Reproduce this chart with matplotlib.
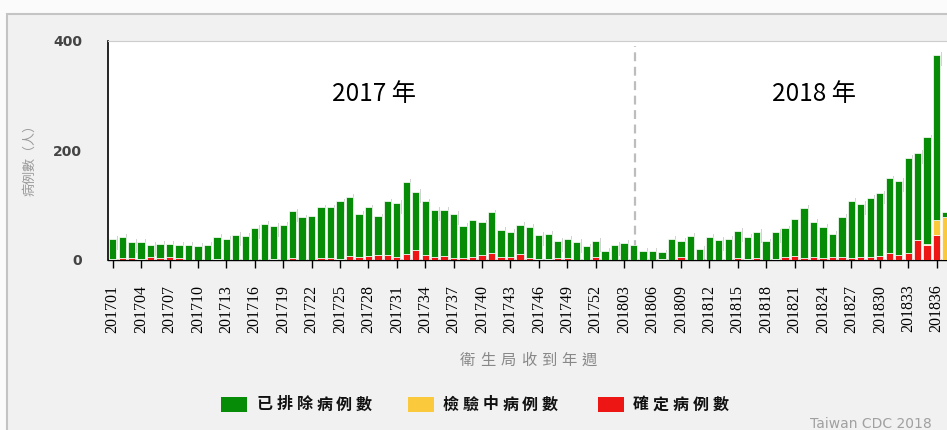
import numpy as np
import matplotlib.pyplot as plt
from matplotlib.patches import Rectangle

W, H = 947, 430

# year-week labels, 201701 .. 201837
weeks = [f'2017{w:02d}' for w in range(1, 53)] + [f'2018{w:02d}' for w in range(1, 38)]

# 已排除病例數 (green)
excluded = [37, 38, 29, 31, 23, 26, 24, 24, 27, 25, 27, 40, 38,
            45, 43, 58, 65, 60, 63, 86, 77, 79, 93, 93, 105, 109,
            80, 89, 71, 98, 98, 132, 106, 97, 85, 83, 81, 59, 67,
            60, 74, 49, 45, 53, 57, 44, 46, 31, 35, 32, 24, 29,
            16, 27, 30, 26, 16, 16, 12, 38, 30, 43, 20, 41, 36,
            38, 50, 40, 48, 33, 49, 52, 68, 91, 64, 58, 43, 73,
            104, 97, 108, 114, 136, 135, 175, 160, 194, 301, 8]

# 檢驗中病例數 (yellow)
testing = [0, 0, 0, 0, 0, 0, 0, 0, 0, 0, 0, 0, 0,
           0, 0, 0, 0, 0, 0, 0, 0, 0, 0, 0, 0, 0,
           0, 0, 0, 0, 0, 0, 0, 0, 0, 0, 0, 0, 0,
           0, 0, 0, 0, 0, 0, 0, 0, 0, 0, 0, 0, 0,
           0, 0, 0, 0, 0, 0, 0, 0, 0, 0, 0, 0, 0,
           0, 0, 0, 0, 0, 0, 0, 0, 0, 0, 0, 0, 0,
           0, 0, 0, 0, 0, 0, 0, 0, 3, 29, 78]

# 確定病例數 (red)
confirmed = [1, 3, 3, 1, 4, 3, 5, 3, 0, 0, 0, 1, 0,
             0, 0, 0, 0, 1, 0, 2, 0, 0, 2, 2, 1, 6,
             4, 6, 8, 8, 5, 10, 18, 9, 5, 7, 2, 2, 5,
             8, 12, 5, 5, 10, 2, 1, 1, 3, 3, 0, 0, 5,
             0, 0, 0, 0, 0, 0, 1, 0, 4, 0, 0, 0, 0,
             0, 2, 1, 2, 0, 1, 5, 6, 3, 5, 2, 4, 5,
             3, 5, 4, 7, 12, 8, 11, 35, 26, 44, 0]

legend_labels = ['已排除病例數', '檢驗中病例數', '確定病例數']
GREEN, YELLOW, RED = '#078c07', '#fbc93c', '#ee1515'
CJK = ['Noto Sans CJK TC', 'DejaVu Sans']


def px(x, y):
    return x / W, 1 - y / H


def spaced(fig, x0, y, s, adv, **kw):
    # CJK text with wide letter spacing, one char at a time
    for k, c in enumerate(s):
        fig.text(*px(x0 + k * adv, y), c, ha='left', va='center', **kw)


fig = plt.figure(figsize=(W / 100, H / 100), dpi=100)
fig.patch.set_facecolor('#fbfbfb')
fig.patches.append(Rectangle(px(7, 440), 1.2, 426 / H, transform=fig.transFigure,
                             facecolor='#f1f1f1', edgecolor='#c4c4c4', lw=1.5, zorder=-5))

ax = fig.add_axes([108 / W, 1 - 259.5 / H, 1 - 108 / W, 219 / H])
ax.set_zorder(1)
ax.set_facecolor('white')

x = np.arange(len(weeks))
red = np.array(confirmed)
yel = np.array(testing)
grn = np.array(excluded)
tot = red + yel + grn

# faint shadow at the top-right of each bar
sb = np.maximum(tot - 20, 0)
ax.bar(x + 0.47, tot + 5 - sb, bottom=sb, width=0.1, color='#d2d2d2', lw=0, zorder=2)

kw = dict(width=0.77, edgecolor='white', linewidth=0.5, zorder=3)
ax.bar(x, red, color=RED, **kw)
ax.bar(x, yel, bottom=red, color=YELLOW, **kw)
ax.bar(x, grn, bottom=red + yel, color=GREEN, **kw)

ax.axvline(55.15, ymin=0.05, ymax=0.975, color='#bdbdbd', lw=1.6, dashes=(4, 2.5), zorder=1)

ax.set_xlim(-0.496, 88.1)
ax.set_ylim(0, 400)

ax.set_xticks(x[::3])
ax.set_xticklabels(weeks[::3], rotation=90, fontfamily='Liberation Serif', fontsize=11.5)
ax.tick_params(axis='x', length=5.8, width=1, color='black', pad=12.3)
ax.set_yticks([0, 200, 400])
ax.set_yticklabels(['0', '200', '400'], fontweight='bold', fontsize=10, color='#444444')
ax.tick_params(axis='y', length=0, pad=18.7)

ax.spines['right'].set_visible(False)
ax.spines['top'].set_color('#cccccc')
ax.spines['left'].set_linewidth(1.2)
ax.spines['bottom'].set_linewidth(1)

fig.text(*px(30, 157), '病例數（人）', rotation=90, ha='center', va='center',
         family=CJK, fontsize=9.4, color='#9a9a9a')
spaced(fig, 460, 360, '衛生局收到年週', 20.3, family=CJK, fontsize=11, color='#888888')

fig.text(*px(374, 94), '2017 年', ha='center', va='center', family=CJK, fontsize=17.5,
         color='black', zorder=5)
fig.text(*px(814, 94), '2018 年', ha='center', va='center', family=CJK, fontsize=17.5,
         color='black', zorder=5)

for (bx, tx), col, lab in zip([(221, 257), (408, 443), (598, 633)],
                              [GREEN, YELLOW, RED], legend_labels):
    fig.patches.append(Rectangle(px(bx, 412), 26 / W, 15 / H, transform=fig.transFigure,
                                 facecolor=col, edgecolor='none', zorder=2))
    spaced(fig, tx, 404.5, lab, 19.8, family=CJK, fontsize=11.5, fontweight='bold', color='#111111')

fig.text(*px(810, 424), 'Taiwan CDC 2018', ha='left', va='center', fontsize=10, color='#a0a0a0')

fig.savefig('out.png', dpi=100, facecolor=fig.get_facecolor())
